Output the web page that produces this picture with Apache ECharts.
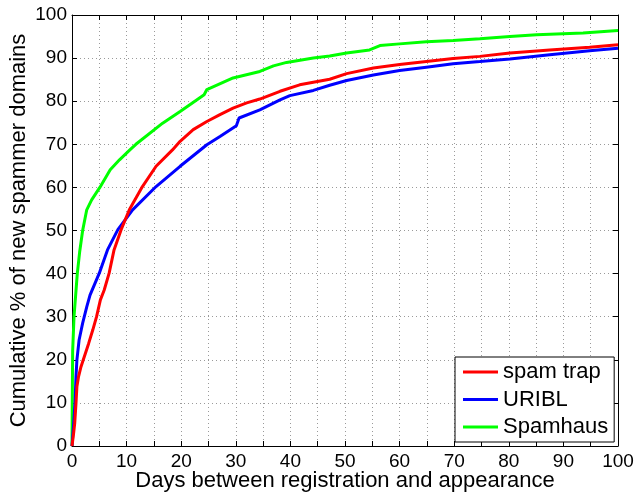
<!DOCTYPE html>
<html>
<head>
<meta charset="utf-8">
<script src="https://cdn.jsdelivr.net/npm/echarts@6/dist/echarts.min.js"></script>
<style>
  html, body { margin: 0; padding: 0; background: #fff; }
  #chart { width: 635px; height: 495px; }
</style>
</head>
<body>
<div id="chart"></div>
<script>
// days / cumulative percent
const trapDays = [0, 0.3, 0.5, 0.73, 0.9, 1.2, 1.65, 2.07, 3.05, 3.8, 4.5, 5.2, 5.9, 6.8, 7.7, 9.0, 10.5, 12.9, 15.4, 18.4, 19.8, 22.2, 24.7, 27.1, 29.5, 32, 34.4, 38.1, 41.7, 44.2, 47.2, 50.3, 55.2, 60, 64.9, 69.8, 74.7, 80.2, 87.5, 94.8, 100];
const trapPct = [0, 3, 5.3, 9.9, 13.8, 16.1, 18.4, 20, 23.8, 26.9, 30, 33.9, 36.2, 40.1, 45.5, 50.2, 54.8, 60.2, 64.9, 68.7, 70.7, 73.4, 75.3, 76.9, 78.4, 79.6, 80.5, 82.3, 83.8, 84.4, 85.1, 86.4, 87.7, 88.5, 89.2, 89.9, 90.4, 91.2, 91.9, 92.5, 93.1];

const uriblDays = [0, 0.3, 0.55, 0.73, 0.9, 1.3, 1.95, 2.7, 3.3, 5.0, 6.5, 8.4, 11.1, 15.4, 19.8, 24.7, 27.1, 30.1, 30.6, 34.4, 38.1, 39.9, 44.2, 47.2, 50.3, 55.2, 60, 64.9, 69.8, 74.7, 80.2, 87.5, 94.8, 100];
const uriblPct = [0, 5, 10, 16.1, 20, 24.6, 28.5, 32.3, 35, 40.1, 45.5, 50.2, 54.8, 60.2, 64.9, 69.9, 71.8, 74.3, 76.1, 78, 80.3, 81.3, 82.5, 83.7, 84.8, 86.1, 87.1, 87.9, 88.7, 89.2, 89.8, 90.8, 91.7, 92.3];

const spamhausDays = [0, 0.05, 0.12, 0.37, 0.97, 1.4, 1.95, 2.7, 3.6, 5.1, 7.0, 8.7, 10.6, 11.7, 16.6, 19.8, 22.5, 24.2, 24.7, 29.5, 34.4, 36.9, 39.3, 44.2, 47.2, 50.3, 54.5, 56.4, 60, 64.9, 69.8, 74.7, 80.2, 85.1, 93.6, 93.8, 100];
const spamhausPct = [0, 10, 22, 30, 40, 45, 50, 54.8, 57.1, 60, 64.1, 66.4, 68.7, 70, 74.9, 77.6, 80, 81.5, 82.7, 85.4, 86.9, 88.2, 89, 90, 90.5, 91.2, 91.9, 92.9, 93.3, 93.8, 94.1, 94.5, 95, 95.4, 95.8, 96.2, 96.4];

const seriesNames = ["spam trap", "URIBL", "Spamhaus"];
const xTicks = { min: 0, max: 100, step: 5 };
const yTicks = { min: 0, max: 100, step: 10 };

function pairs(xs, ys) {
  return xs.map((x, i) => [x, ys[i]]);
}

const chart = echarts.init(document.getElementById("chart"));
const font = "Liberation Sans, Arial, Helvetica, sans-serif";

const dotted = { show: true, lineStyle: { color: "#9a9a9a", type: [1, 3], width: 1 } };
const axisLine = { show: true, onZero: false, lineStyle: { color: "#000", width: 1 } };
const tickIn = { show: true, inside: true, length: 5, lineStyle: { color: "#000" } };

const option = {
  animation: false,
  backgroundColor: "#fff",
  grid: { left: 72, right: 17, top: 15, bottom: 49, containLabel: false, outerBoundsMode: "none" },
  legend: {
    data: seriesNames,
    orient: "vertical",
    left: 455,
    top: 357,
    icon: "rect",
    itemWidth: 35,
    itemHeight: 3,
    itemGap: 5.5,
    padding: [4, 6, 4, 8],
    backgroundColor: "#fff",
    borderColor: "#000",
    borderWidth: 1,
    borderRadius: 0,
    textStyle: { fontFamily: font, fontSize: 22, color: "#000", lineHeight: 21 },
  },
  xAxis: [
    {
      type: "value",
      min: xTicks.min,
      max: xTicks.max,
      interval: xTicks.step,
      name: "Days between registration and appearance",
      nameLocation: "middle",
      nameGap: 24,
      nameMoveOverlap: false,
      nameTextStyle: { fontFamily: font, fontSize: 22, color: "#000" },
      axisLine: axisLine,
      axisTick: tickIn,
      splitLine: dotted,
      axisLabel: {
        margin: 6,
        fontFamily: font,
        fontSize: 19,
        color: "#000",
        formatter: (v) => (v % 10 === 0 ? String(v) : ""),
      },
    },
    {
      type: "value",
      position: "top",
      min: xTicks.min,
      max: xTicks.max,
      interval: xTicks.step,
      axisLine: axisLine,
      axisTick: tickIn,
      splitLine: { show: false },
      axisLabel: { show: false },
    },
  ],
  yAxis: [
    {
      type: "value",
      min: yTicks.min,
      max: yTicks.max,
      interval: yTicks.step,
      name: "Cumulative % of new spammer domains",
      nameLocation: "middle",
      nameGap: 42,
      nameMoveOverlap: false,
      nameTextStyle: { fontFamily: font, fontSize: 22, color: "#000" },
      axisLine: axisLine,
      axisTick: tickIn,
      splitLine: dotted,
      axisLabel: { margin: 5, fontFamily: font, fontSize: 19, color: "#000" },
    },
    {
      type: "value",
      position: "right",
      min: yTicks.min,
      max: yTicks.max,
      interval: yTicks.step,
      axisLine: axisLine,
      axisTick: tickIn,
      splitLine: { show: false },
      axisLabel: { show: false },
    },
  ],
  series: [
    {
      name: seriesNames[2],
      type: "line",
      data: pairs(spamhausDays, spamhausPct),
      showSymbol: false,
      color: "#00ff00",
      lineStyle: { width: 3, color: "#00ff00" },
      z: 3,
    },
    {
      name: seriesNames[1],
      type: "line",
      data: pairs(uriblDays, uriblPct),
      showSymbol: false,
      color: "#0000ff",
      lineStyle: { width: 3, color: "#0000ff" },
      z: 4,
    },
    {
      name: seriesNames[0],
      type: "line",
      data: pairs(trapDays, trapPct),
      showSymbol: false,
      color: "#ff0000",
      lineStyle: { width: 3, color: "#ff0000" },
      z: 5,
    },
  ],
};

chart.setOption(option);
</script>
</body>
</html>
